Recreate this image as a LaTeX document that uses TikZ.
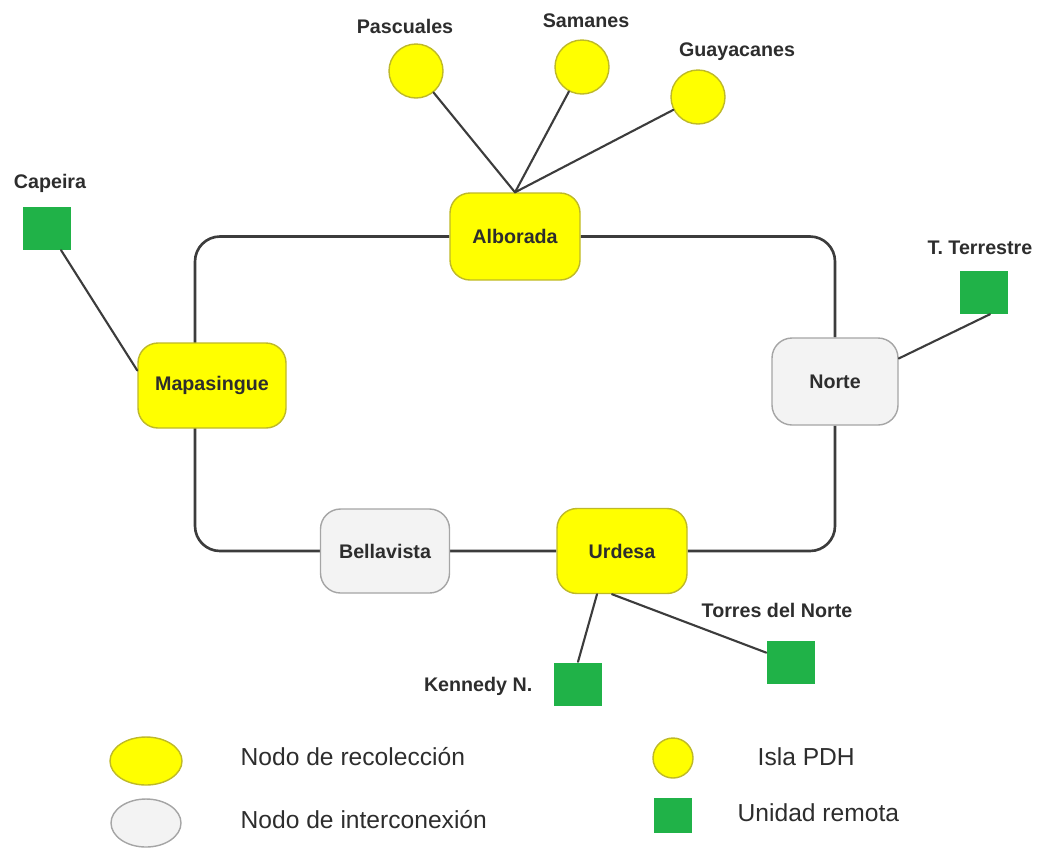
\documentclass[tikz,border=0pt]{standalone}
\usepackage{fontspec}
\setmainfont{Liberation Sans}
\usetikzlibrary{backgrounds,shapes.geometric}
\definecolor{amarillo}{RGB}{255,255,0}
\definecolor{bordeam}{RGB}{190,185,40}
\definecolor{gris}{RGB}{243,243,243}
\definecolor{bordegr}{RGB}{165,165,165}
\definecolor{verde}{RGB}{32,178,72}
\definecolor{linea}{RGB}{60,60,60}
\definecolor{texto}{RGB}{45,45,45}

\begin{document}
\begin{tikzpicture}[line cap=round,
  recol/.style={draw=bordeam,fill=amarillo,rounded corners=0.2cm,minimum width=1.3cm,minimum height=0.87cm,inner sep=0pt,font=\fontsize{5.6}{6}\selectfont\bfseries,text=texto},
  inter/.style={recol,draw=bordegr,fill=gris},
  isla/.style={circle,draw=bordeam,fill=amarillo,minimum size=0.54cm,inner sep=0pt},
  remota/.style={draw=none,fill=verde,minimum width=0.48cm,minimum height=0.43cm,inner sep=0pt},
  etiq/.style={font=\fontsize{5.6}{6}\selectfont\bfseries,text=texto,inner sep=0pt},
  leyenda/.style={font=\fontsize{7}{8}\selectfont,text=texto,inner sep=0pt,anchor=west},
  anillo/.style={draw=linea,line width=0.75pt,rounded corners=0.25cm},
  enlace/.style={draw=linea,line width=0.6pt}]
\useasboundingbox (0,0) rectangle (10.4,-8.48);

% nodos del anillo
\node[recol] (alborada) at (5.15,-2.365) {Alborada};
\node[recol,minimum width=1.48cm,minimum height=0.85cm] (mapasingue) at (2.12,-3.855) {Mapasingue};
\node[inter,minimum width=1.26cm] (norte) at (8.35,-3.815) {Norte};
\node[inter,minimum width=1.29cm,minimum height=0.84cm] (bellavista) at (3.85,-5.51) {Bellavista};
\node[recol,minimum height=0.85cm] (urdesa) at (6.22,-5.51) {Urdesa};

% islas PDH
\node[isla] (pascuales) at (4.16,-0.71) {};
\node[isla] (samanes) at (5.82,-0.67) {};
\node[isla] (guayacanes) at (6.98,-0.97) {};
\node[etiq] (lpascuales) at (4.05,-0.26) {Pascuales};
\node[etiq] (lsamanes) at (5.86,-0.21) {Samanes};
\node[etiq] (lguayacanes) at (7.37,-0.52) {Guayacanes};

% unidades remotas
\node[remota] (capeira) at (0.47,-2.28) {};
\node[remota] (tterrestre) at (9.84,-2.92) {};
\node[remota] (kennedy) at (5.78,-6.84) {};
\node[remota] (torres) at (7.91,-6.62) {};
\node[etiq] (lcapeira) at (0.50,-1.83) {Capeira};
\node[etiq] (ltterrestre) at (9.80,-2.48) {T. Terrestre};
\node[etiq,anchor=east] (lkennedy) at (5.33,-6.86) {Kennedy N.};
\node[etiq] (ltorres) at (7.77,-6.10) {Torres del Norte};

\begin{scope}[on background layer]
\draw[anillo] (alborada) -| ([xshift=-0.17cm]mapasingue.center) |- (bellavista) -- (urdesa) -| (norte) |- (alborada);
\end{scope}

\draw[enlace] (pascuales) -- (alborada.north);
\draw[enlace] (samanes) -- (alborada.north);
\draw[enlace] (guayacanes) -- (alborada.north);
\draw[enlace] (capeira) -- ([yshift=0.15cm]mapasingue.west);
\draw[enlace] ([yshift=0.23cm]norte.east) -- ([xshift=0.06cm]tterrestre.south);
\draw[enlace] ([xshift=-0.25cm]urdesa.south) -- (kennedy.north);
\draw[enlace] ([xshift=-0.1cm]urdesa.south) -- (torres);

% leyenda
\node[ellipse,draw=bordeam,fill=amarillo,minimum width=0.72cm,minimum height=0.48cm,inner sep=0pt] (lyrecol) at (1.46,-7.61) {};
\node[ellipse,draw=bordegr,fill=gris,minimum width=0.70cm,minimum height=0.48cm,inner sep=0pt] (lyinter) at (1.46,-8.23) {};
\node[leyenda] (tyrecol) at (2.40,-7.57) {Nodo de recolección};
\node[leyenda] (tyinter) at (2.40,-8.20) {Nodo de interconexión};
\node[ellipse,draw=bordeam,fill=amarillo,minimum width=0.40cm,minimum height=0.40cm,inner sep=0pt] (lyisla) at (6.73,-7.58) {};
\node[remota,minimum width=0.38cm,minimum height=0.35cm] (lyremota) at (6.73,-8.15) {};
\node[leyenda] (tyisla) at (7.57,-7.57) {Isla PDH};
\node[leyenda] (tyremota) at (7.37,-8.13) {Unidad remota};
\end{tikzpicture}
\end{document}
